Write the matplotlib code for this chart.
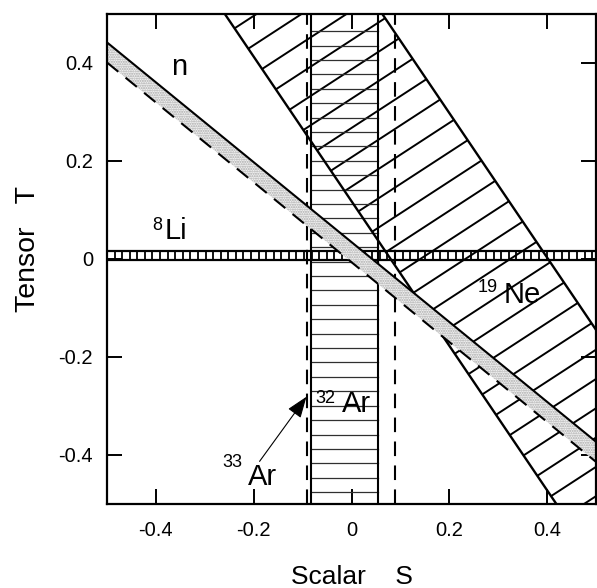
import numpy as np
import matplotlib
matplotlib.use('Agg')
import matplotlib.pyplot as plt
from matplotlib.patches import Polygon
from matplotlib.collections import LineCollection

plt.rcParams['font.family'] = ['Liberation Sans', 'DejaVu Sans']

# ticks
tick_vals = [-0.4, -0.2, 0, 0.2, 0.4]
tick_text = ['-0.4', '-0.2', '0', '0.2', '0.4']

# n band: T of the edges at S=-0.5 and S=0.5
s_ends = [-0.5, 0.5]
n_upper = [0.442, -0.373]
n_lower = [0.401, -0.414]

# 19Ne band: S of the edges at T=0.5 and T=-0.5
t_ends = [0.5, -0.5]
ne_left = [-0.259, 0.419]
ne_right = [0.063, 0.741]

# 32Ar band and the dashed limits
ar_band = [-0.083, 0.055]
ar_dashed = [-0.090, 0.089]

# 8Li band
li_band = [-0.003, 0.016]

# labels (text, S, T, size)
labels = [
    ('n', -0.368, 0.3765, 21),
    ('8', -0.408, 0.060, 13),
    ('Li', -0.382, 0.040, 21),
    ('19', 0.257, -0.068, 13),
    ('Ne', 0.312, -0.089, 21),
    ('32', -0.073, -0.293, 13),
    ('Ar', -0.020, -0.313, 21),
    ('33', -0.265, -0.4255, 13),
    ('Ar', -0.212, -0.462, 21),
]
arrow_from = (-0.188, -0.413)
arrow_to = (-0.092, -0.281)

fig = plt.figure(figsize=(5.97, 5.88), dpi=100)
ax = fig.add_axes([107/597, 84/588, 489/597, 490/588])
ax.set_xlim(-0.5, 0.5)
ax.set_ylim(-0.5, 0.5)

# 19Ne hatched band
ne_poly = Polygon([[ne_left[0], t_ends[0]], [ne_right[0], t_ends[0]],
                   [ne_right[1], t_ends[1]], [ne_left[1], t_ends[1]]],
                  closed=True, facecolor='none', edgecolor='none')
ax.add_patch(ne_poly)
hs = np.array([-0.7, 0.7])
segs = [np.column_stack([hs, c + 0.65 * hs]) for c in 0.387 + 0.0598 * np.arange(-25, 5)]
lc = LineCollection(segs, colors='k', linewidths=1.4, zorder=2)
lc.set_clip_path(ne_poly)
ax.add_collection(lc)
ax.plot(ne_left, t_ends, color='k', lw=1.7, zorder=3)
ax.plot(ne_right, t_ends, color='k', lw=1.7, zorder=3)

# 32Ar band with horizontal lines
for t in np.arange(0.465, -0.5, -0.0294):
    ax.plot(ar_band, [t, t], color='#303030', lw=0.9, zorder=2)
for s in ar_band:
    ax.axvline(s, color='k', lw=1.5, zorder=3)
for s in ar_dashed:
    ax.axvline(s, color='k', lw=1.5, dashes=(7, 4.5), zorder=3)

# 8Li band
for s in np.arange(-0.5, 0.5, 0.0155):
    ax.plot([s, s], li_band, color='k', lw=1.3, zorder=3)
for t in li_band:
    ax.axhline(t, color='k', lw=1.6, zorder=3)

# n band (stippled)
n_poly = Polygon([[s_ends[0], n_upper[0]], [s_ends[1], n_upper[1]],
                  [s_ends[1], n_lower[1]], [s_ends[0], n_lower[0]]],
                 closed=True, facecolor='#f2f2f2', edgecolor='#a8a8a8',
                 hatch='.......', lw=0, zorder=5)
ax.add_patch(n_poly)
ax.plot(s_ends, n_upper, color='k', lw=1.5, zorder=6)
ax.plot(s_ends, n_lower, color='k', lw=1.5, dashes=(7, 4.5), zorder=6)

for txt, s, t, size in labels:
    ax.text(s, t, txt, fontsize=size, ha='left', va='baseline', zorder=8)

ax.annotate('', xy=arrow_to, xytext=arrow_from,
            arrowprops=dict(arrowstyle='-|>,head_length=0.6,head_width=0.22',
                            mutation_scale=22, lw=0.8, color='k',
                            shrinkA=0, shrinkB=0), zorder=8)

ax.set_xticks(tick_vals)
ax.set_xticklabels(tick_text)
ax.set_yticks(tick_vals)
ax.set_yticklabels(tick_text)
ax.tick_params(direction='in', length=11, width=1.4, top=True, right=True,
               labelsize=14.5)
ax.tick_params(axis='x', pad=12)
ax.tick_params(axis='y', pad=10)
for sp in ax.spines.values():
    sp.set_linewidth(1.6)
    sp.set_zorder(9)

ax.set_xlabel('Scalar    S', fontsize=19)
ax.xaxis.set_label_coords(0.5, -0.125)
ax.set_ylabel('Tensor   T', fontsize=20.5)
ax.yaxis.set_label_coords(-0.135, 0.52)

fig.savefig('out.png', dpi=100)
